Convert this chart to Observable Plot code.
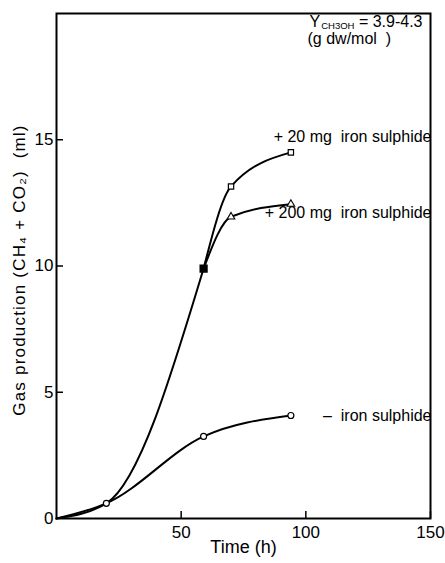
<!DOCTYPE html>
<html><head><meta charset="utf-8">
<script src="https://cdn.jsdelivr.net/npm/d3@7"></script>
<script src="https://cdn.jsdelivr.net/npm/@observablehq/plot@0.6"></script>
<style>html,body{margin:0;padding:0;background:#fff} svg{display:block} .ylab text{letter-spacing:1.2px}</style>
</head><body><div id="chart"></div>
<script>
// ---- data ----
const timeFeS = [0, 20, 59, 70, 94];
const gas20mg = [0, 0.6, 9.9, 13.15, 14.5];
const gas200mg = [0, 0.6, 9.9, 11.95, 12.45];
const timeNoFeS = [0, 20, 59, 94];
const gasNoFeS = [0, 0.6, 3.25, 4.08];
const seriesNames = ["20mg", "200mg", "none"];
const seriesLabels = ["+ 20 mg  iron sulphide", "+ 200 mg  iron sulphide", "–  iron sulphide"];
const xTicks = [50, 100, 150];
const yTicks = [0, 5, 10, 15];
const xLabel = "Time (h)";
const yLabel = "Gas production (CH₄ + CO₂)  (ml)";
const yieldParts = ["Y", "CH3OH", " = 3.9-4.3"];
const yieldUnit = "(g dw/mol  )";

// ---- build tables ----
const forkIndex = 2;                    // both iron-sulphide cultures coincide up to here
const forkTime = timeFeS[forkIndex];
const rows = [
  ...timeFeS.map((t, i) => ({t, v: gas20mg[i], s: seriesNames[0]})),
  ...timeFeS.map((t, i) => ({t, v: gas200mg[i], s: seriesNames[1]})),
  ...timeNoFeS.map((t, i) => ({t, v: gasNoFeS[i], s: seriesNames[2]}))
];
// line pieces: shared trunk, the two branches, and the control series
const lineRows = [
  ...rows.filter(r => r.s === seriesNames[0] && r.t <= forkTime).map(r => ({...r, seg: "trunk"})),
  ...rows.filter(r => r.s === seriesNames[0] && r.t >= forkTime).map(r => ({...r, seg: "b20"})),
  ...rows.filter(r => r.s === seriesNames[1] && r.t >= forkTime).map(r => ({...r, seg: "b200"})),
  ...rows.filter(r => r.s === seriesNames[2]).map(r => ({...r, seg: "none"}))
];
const lastOf = s => rows.filter(r => r.s === s).slice(-1)[0];
const openSquares = rows.filter(r => r.s === seriesNames[0] && r.t > forkTime);
const openTriangles = rows.filter(r => r.s === seriesNames[1] && r.t > forkTime);
const openCircles = rows.filter(r => r.s === seriesNames[2] && r.t > 0);
const filledSquares = rows.filter(r => r.s === seriesNames[0] && r.t === forkTime);
const labelOffsets = [0.6, -0.35, 0];
const labelRows = seriesNames.map((s, i) => ({text: seriesLabels[i], t: 150, v: lastOf(s).v + labelOffsets[i]}));

const W = 445, H = 563, mL = 56, mR = 15, mT = 13, mB = 45;
const innerW = W - mL - mR, innerH = H - mT - mB;

const chart = Plot.plot({
  width: W, height: H,
  marginLeft: mL, marginRight: mR, marginTop: mT, marginBottom: mB,
  style: {fontFamily: "'Liberation Sans', Arial, Helvetica, sans-serif", fontSize: "16px", color: "black", background: "white"},
  x: {domain: [0, 150]},
  y: {domain: [0, 20]},
  marks: [
    Plot.gridX({ticks: xTicks, stroke: "black", strokeOpacity: 1, strokeWidth: 1.5, insetTop: innerH - 7}),
    Plot.gridY({ticks: yTicks.filter(v => v > 0), stroke: "black", strokeOpacity: 1, strokeWidth: 1.5, insetRight: innerW - 7}),
    Plot.axisX({ticks: xTicks, tickSize: 0, tickPadding: 7, fontSize: 17, label: null}),
    Plot.axisY({ticks: yTicks, tickSize: 0, tickPadding: 3, fontSize: 17, label: null}),
    Plot.text([xLabel], {frameAnchor: "bottom", textAnchor: "middle", dy: 34, fontSize: 18, text: d => d}),
    Plot.text([yLabel], {frameAnchor: "left", textAnchor: "middle", rotate: -90, dx: -37, dy: 4, fontSize: 17, text: d => d, className: "ylab"}),
    Plot.frame({stroke: "black", strokeWidth: 2}),
    Plot.line(lineRows, {x: "t", y: "v", z: "seg", curve: "monotone-x", stroke: "black", strokeWidth: 2}),
    Plot.dot(openCircles, {x: "t", y: "v", symbol: "circle", r: 3, stroke: "black", fill: "white", strokeWidth: 1.2}),
    Plot.dot(openSquares, {x: "t", y: "v", symbol: "square", r: 3, stroke: "black", fill: "white", strokeWidth: 1.2}),
    Plot.dot(openTriangles, {x: "t", y: "v", symbol: "triangle", r: 2.8, stroke: "black", fill: "white", strokeWidth: 1.1}),
    Plot.dot(filledSquares, {x: "t", y: "v", symbol: "square", r: 3.8, fill: "black", stroke: "black"}),
    Plot.text(labelRows, {x: "t", y: "v", text: "text", textAnchor: "end", dx: 1, fontSize: 16}),
    Plot.text([yieldParts.join("")], {frameAnchor: "top-right", textAnchor: "start", lineAnchor: "top", dx: -121, dy: 2, fontSize: 16, text: d => d, className: "yield-line"}),
    Plot.text([yieldUnit], {frameAnchor: "top-right", textAnchor: "start", lineAnchor: "top", dx: -123, dy: 19, fontSize: 16, text: d => d})
  ]
});
document.getElementById("chart").appendChild(chart);

// subscript for the yield symbol
const yt = chart.querySelector(".yield-line text");
if (yt) {
  const ns = "http://www.w3.org/2000/svg";
  while (yt.firstChild) yt.removeChild(yt.firstChild);
  const a = document.createElementNS(ns, "tspan"); a.textContent = yieldParts[0];
  const b = document.createElementNS(ns, "tspan"); b.textContent = yieldParts[1];
  b.setAttribute("font-size", "9.5"); b.setAttribute("dy", "2.5"); b.setAttribute("dx", "1");
  const c = document.createElementNS(ns, "tspan"); c.textContent = yieldParts[2];
  c.setAttribute("dy", "-2.5");
  yt.append(a, b, c);
}
</script>
</body></html>
